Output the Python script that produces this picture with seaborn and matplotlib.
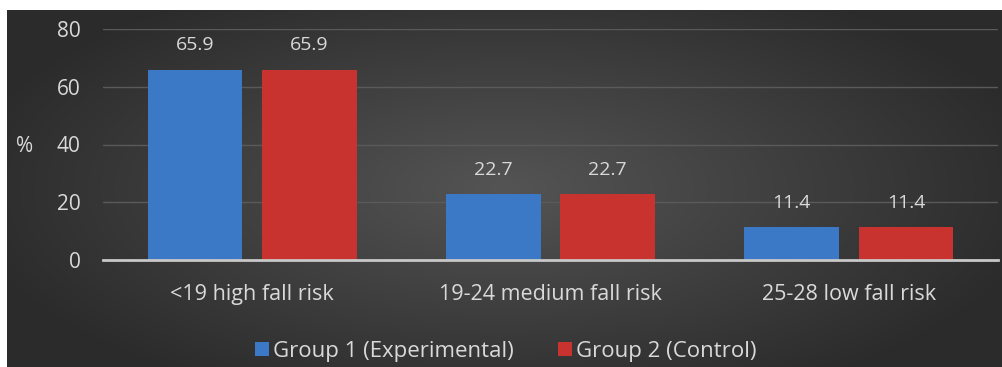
import seaborn as sns
import pandas as pd
import matplotlib.pyplot as plt
import numpy as np

categories = ["<19 high fall risk", "19-24 medium fall risk", "25-28 low fall risk"]
group1 = [65.9, 22.7, 11.4]
group2 = [65.9, 22.7, 11.4]
groups = ["Group 1 (Experimental)", "Group 2 (Control)"]
yticks = [0, 20, 40, 60, 80]

df = pd.DataFrame({
    "Category": categories * 2,
    "Value": group1 + group2,
    "Group": [groups[0]] * 3 + [groups[1]] * 3,
})

sns.set_theme(style="white")
plt.rcParams['font.family'] = ['Open Sans', 'DejaVu Sans']
txt = "#d9d9d9"

fig = plt.figure(figsize=(10.02, 3.67), dpi=100)
fig.patch.set_facecolor("white")

# dark radial-gradient background panel
bg = fig.add_axes([7 / 1002, 0, 995 / 1002, 357 / 367], zorder=0)
yy, xx = np.mgrid[-1:1:200j, -1:1:400j]
r = np.sqrt((xx / 1.1) ** 2 + (yy / 1.3) ** 2)
shade = 0.33 - 0.16 * np.clip(r, 0, 1)
bg.imshow(np.dstack([shade] * 3), aspect="auto", extent=[0, 1, 0, 1])
bg.set_axis_off()

ax = fig.add_axes([103 / 1002, 107 / 367, 895 / 1002, 231 / 367], zorder=1)
ax.patch.set_alpha(0)
sns.barplot(data=df, x="Category", y="Value", hue="Group", hue_order=groups,
            palette=["#3b78c6", "#c8322f"], width=0.765, gap=0.17,
            saturation=1, ax=ax, legend=True, edgecolor="none", linewidth=0)

for c in ax.containers:
    ax.bar_label(c, fmt="%.1f", padding=11, color=txt, fontsize=14)

ax.set_ylim(0, 80)
ax.set_xlim(-0.5, 2.5)
ax.set_yticks(yticks)
ax.yaxis.grid(True, color="#5a5a5a", linewidth=1)
ax.set_axisbelow(True)
for s in ["top", "right", "left"]:
    ax.spines[s].set_visible(False)
ax.spines["bottom"].set_color("#c8c8c8")
ax.spines["bottom"].set_linewidth(2)

ax.set_xticks([0, 1, 2])
ax.set_xticklabels(categories, color=txt, fontsize=15.5)
ax.set_xticks([-0.5, 0.5, 1.5, 2.5], minor=True)
ax.tick_params(axis="x", which="major", length=0, pad=17)
ax.tick_params(axis="x", which="minor", length=6, width=1.5, color="#c8c8c8", direction="out")
ax.tick_params(axis="y", length=0, pad=16, labelcolor=txt, labelsize=15)
ax.set_xlabel("")
ax.set_ylabel("%", rotation=0, color=txt, fontsize=15, va="center", ha="center")
ax.yaxis.set_label_coords(-78 / 895, 0.49)

h, l = ax.get_legend_handles_labels()
ax.get_legend().remove()
fig.legend(h, l, loc="center", bbox_to_anchor=(506 / 1002, 16 / 367), ncol=2,
           frameon=False, fontsize=16, labelcolor=txt, handlelength=0.6,
           handleheight=0.6, handletextpad=0.2, columnspacing=2.0)

plt.savefig("out.png", dpi=100)
